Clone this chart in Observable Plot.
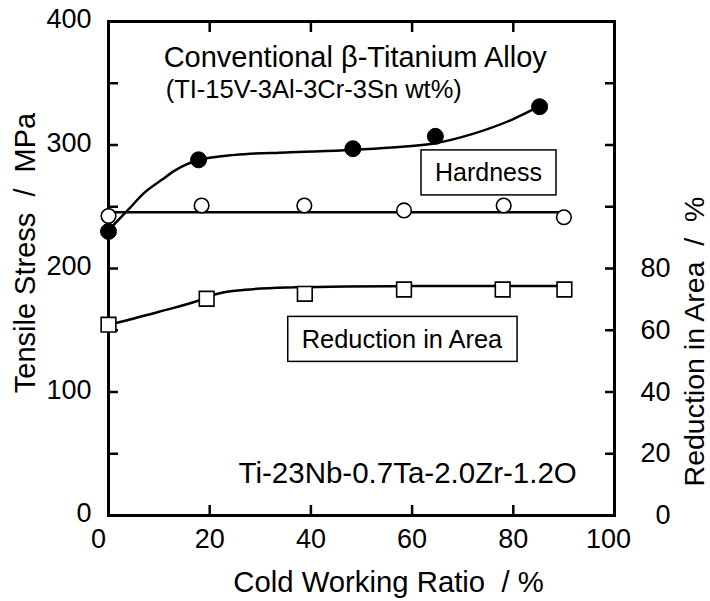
<!DOCTYPE html>
<html>
<head>
<meta charset="utf-8">
<script src="https://cdn.jsdelivr.net/npm/d3@7"></script>
<script src="https://cdn.jsdelivr.net/npm/@observablehq/plot@0.6"></script>
<style>
  html, body { margin: 0; padding: 0; background: #fff; }
  svg { display: block; }
</style>
</head>
<body>
<script>
// ---- Data ----
// Tensile stress, MPa (filled circles)
const tensileX = [0, 17.8, 48.3, 64.6, 85.2];
const tensileY = [230, 288, 297, 307, 331];
// Smooth fitted curve through tensile stress
const tensileFitX = [0.5, 4, 7, 10.6, 13, 18, 25, 35, 48, 56, 64, 72, 80, 85];
const tensileFitY = [233, 248, 261, 272, 279, 288, 292, 294, 296, 298, 301, 309, 321, 331];
// Hardness (open circles), plotted against the left scale
const hardnessX = [0, 18.4, 38.7, 58.4, 78.1, 90];
const hardnessY = [242.5, 251, 251, 247, 251, 241.5];
const hardnessFitX = [0, 90];
const hardnessFitY = [245.5, 245.5];
// Reduction in area, % (open squares), right scale
const raX = [0, 19.4, 38.8, 58.4, 77.9, 90.1];
const raY = [61.8, 70.2, 71.8, 73.2, 73.2, 73.2];
const raFitX = [0.5, 10, 18, 21, 27, 37, 47, 60, 90];
const raFitY = [61.9, 66, 69.7, 71.6, 73.1, 73.9, 74.2, 74.3, 74.3];

// Ticks
const xTickLabelsMid = [20, 40, 60, 80];
const xTickLabelFirst = [0];
const xTickLabelLast = [100];
const xTickMarks = [20, 40, 60, 80];
const yTickLabels = [0, 100, 200, 300, 400];
const yTickMarks = [50, 100, 150, 200, 250, 300, 350];
const raTickLabels = [0, 20, 40, 60, 80];
const raPerMPa = 80 / 200; // right axis: 80 % sits at 200 MPa

// Texts
const titleText = "Conventional \u03b2-Titanium Alloy";
const subtitleText = "(TI-15V-3Al-3Cr-3Sn wt%)";
const hardnessLabel = "Hardness";
const raLabel = "Reduction in Area";
const alloyLabel = "Ti-23Nb-0.7Ta-2.0Zr-1.2O";
const xTitle = "Cold Working Ratio\u00a0 /\u00a0%";
const yTitle = "Tensile Stress\u00a0 /\u00a0 MPa";
const y2Title = "Reduction in Area\u00a0 /\u00a0 %";

// ---- Tables ----
const rows = (xs, ys) => xs.map((x, i) => ({x, y: ys[i]}));
const tensile = rows(tensileX, tensileY);
const tensileFit = rows(tensileFitX, tensileFitY);
const hardness = rows(hardnessX, hardnessY);
const hardnessFit = rows(hardnessFitX, hardnessFitY);
const ra = rows(raX, raY);
const raFit = rows(raFitX, raFitY);
const toStress = (d) => d.y / raPerMPa;

const tickFont = 27;
const svg = Plot.plot({
  width: 710,
  height: 601,
  marginLeft: 108,
  marginRight: 96,
  marginTop: 21,
  marginBottom: 86,
  x: {domain: [0, 100], label: null},
  y: {domain: [0, 400], label: null},
  style: {fontFamily: "'Liberation Sans', Arial, sans-serif", fontSize: "27px", color: "#000", background: "#fff"},
  marks: [
    // tick labels
    Plot.axisX({anchor: "bottom", ticks: xTickLabelsMid, tickSize: 0, tickPadding: 13, label: null, fontSize: tickFont}),
    Plot.axisX({anchor: "bottom", ticks: xTickLabelFirst, tickSize: 0, tickPadding: 13, dx: -10, label: null, fontSize: tickFont}),
    Plot.axisX({anchor: "bottom", ticks: xTickLabelLast, tickSize: 0, tickPadding: 13, dx: -6, label: null, fontSize: tickFont}),
    Plot.axisY({anchor: "left", ticks: yTickLabels, tickSize: 0, tickPadding: 17, dy: -2, label: null, fontSize: tickFont}),
    Plot.axisY({anchor: "right", ticks: raTickLabels.map(v => v / raPerMPa), tickFormat: v => Math.round(v * raPerMPa), tickSize: 0, tickPadding: 56, textAnchor: "end", label: null, fontSize: tickFont}),
    // inward tick marks
    Plot.axisX({anchor: "bottom", ticks: xTickMarks, tickSize: 10, dy: -10, fill: "none", strokeWidth: 2.5, label: null}),
    Plot.axisX({anchor: "top", ticks: xTickMarks, tickSize: 10, dy: 10, fill: "none", strokeWidth: 2.5, label: null}),
    Plot.axisY({anchor: "left", ticks: yTickMarks, tickSize: 10, dx: 10, fill: "none", strokeWidth: 2.5, label: null}),
    Plot.axisY({anchor: "right", ticks: yTickMarks, tickSize: 10, dx: -10, fill: "none", strokeWidth: 2.5, label: null}),
    Plot.frame({stroke: "#000", strokeWidth: 3}),
    // fitted curves
    Plot.line(hardnessFit, {x: "x", y: "y", stroke: "#000", strokeWidth: 2.5}),
    Plot.line(tensileFit, {x: "x", y: "y", stroke: "#000", strokeWidth: 2.5, curve: "monotone-x"}),
    Plot.line(raFit, {x: "x", y: toStress, stroke: "#000", strokeWidth: 2.5, curve: "monotone-x"}),
    // data points
    Plot.dot(hardness, {x: "x", y: "y", r: 7.3, fill: "#fff", stroke: "#000", strokeWidth: 1.6}),
    Plot.dot(tensile, {x: "x", y: "y", r: 8, fill: "#000", stroke: "#000", strokeWidth: 1}),
    Plot.dot(ra, {x: "x", y: toStress, symbol: "square", r: 8.3, fill: "#fff", stroke: "#000", strokeWidth: 1.6}),
    // annotations
    Plot.text([titleText], {x: 10.9, y: 370.8, text: d => d, textAnchor: "start", fontSize: 29, fill: "#000"}),
    Plot.text([subtitleText], {x: 11.3, y: 344.4, text: d => d, textAnchor: "start", fontSize: 25.5, fill: "#000"}),
    Plot.text([hardnessLabel], {x: 75.1, y: 277, text: d => d, fontSize: 25, fill: "#000"}),
    Plot.text([raLabel], {x: 58.0, y: 142.3, text: d => d, fontSize: 25.4, fill: "#000"}),
    Plot.text([alloyLabel], {x: 25.7, y: 34.3, text: d => d, textAnchor: "start", fontSize: 29.5, fill: "#000"}),
    // axis titles
    Plot.text([yTitle], {frameAnchor: "left", rotate: -90, textAnchor: "middle", lineAnchor: "middle", dx: -82.3, dy: -15.5, text: d => d, fontSize: 29, fill: "#000"}),
    Plot.text([y2Title], {frameAnchor: "right", rotate: -90, textAnchor: "middle", lineAnchor: "middle", dx: 80, dy: 73, text: d => d, fontSize: 28.5, fill: "#000"}),
    Plot.text([xTitle], {frameAnchor: "bottom", textAnchor: "middle", lineAnchor: "middle", dx: 27, dy: 67.6, text: d => d, fontSize: 29.3, fill: "#000"})
  ]
});
document.body.appendChild(svg);

// Draw a box behind each boxed label, sized from the rendered text
const boxed = new Set([hardnessLabel, raLabel]);
svg.querySelectorAll("text").forEach(t => {
  if (!boxed.has(t.textContent)) return;
  const b = t.getBBox();
  const padX = 14, padY = 8.5;
  const r = document.createElementNS("http://www.w3.org/2000/svg", "rect");
  r.setAttribute("x", b.x - padX);
  r.setAttribute("y", b.y - padY);
  r.setAttribute("width", b.width + 2 * padX);
  r.setAttribute("height", b.height + 2 * padY);
  r.setAttribute("fill", "#fff");
  r.setAttribute("stroke", "#000");
  r.setAttribute("stroke-width", 1.5);
  const tr = t.getAttribute("transform");
  if (tr) r.setAttribute("transform", tr);
  t.parentNode.insertBefore(r, t);
});
</script>
</body>
</html>
